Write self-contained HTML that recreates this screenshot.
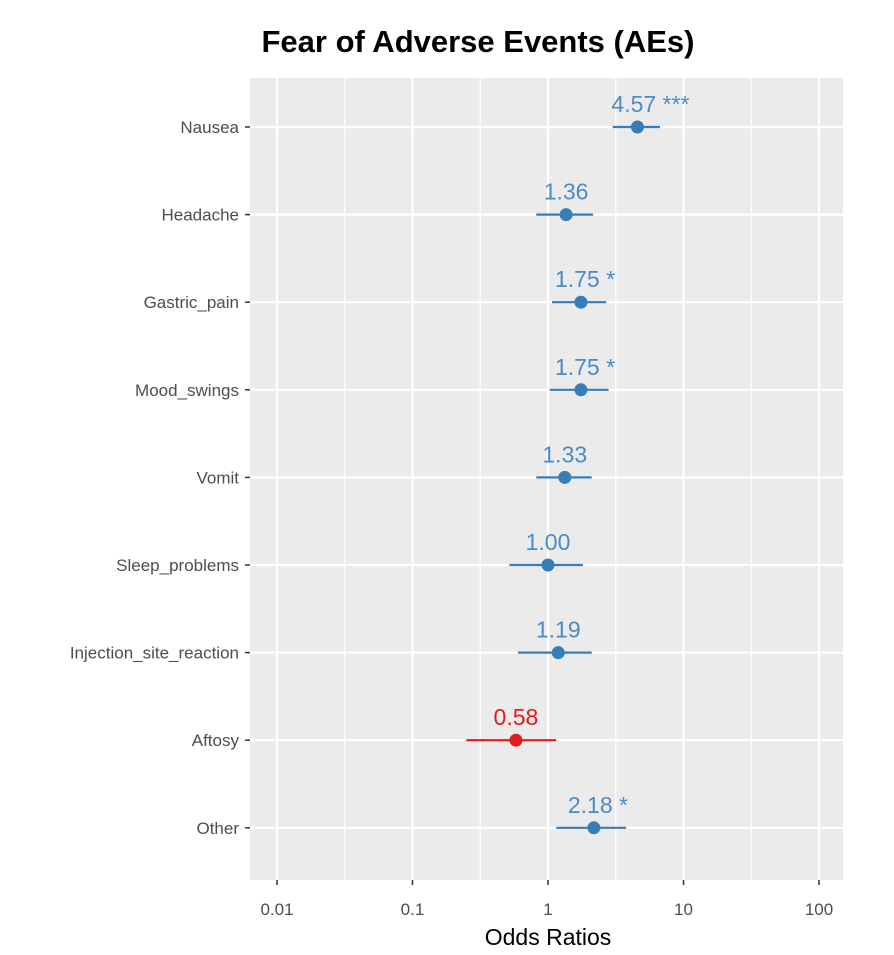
<!DOCTYPE html>
<html><head><meta charset="utf-8"><style>
body{margin:0;background:#fff;}
svg{display:block;font-family:"Liberation Sans",sans-serif;}
</style></head><body>
<svg id="chart" width="894" height="955">
<text x="478" y="52" text-anchor="middle" font-size="31" font-weight="bold" fill="#000">Fear of Adverse Events (AEs)</text>
<rect x="250" y="78" width="593" height="802" fill="#ebebeb"/>
<g id="grid"></g><g id="marks"></g><g id="axes"></g>
<text x="548" y="945" text-anchor="middle" font-size="23" fill="#000">Odds Ratios</text>
</svg>
<script>
const categories=["Nausea","Headache","Gastric_pain","Mood_swings","Vomit","Sleep_problems","Injection_site_reaction","Aftosy","Other"];
const oddsRatios=[4.57,1.36,1.75,1.75,1.33,1.00,1.19,0.58,2.18];
const lowerCI=[3.0,0.82,1.07,1.03,0.82,0.52,0.6,0.25,1.15];
const upperCI=[6.7,2.15,2.68,2.8,2.1,1.81,2.1,1.15,3.77];
const sigLabels=["***","","*","*","","","","","*"];
const xTicks=[0.01,0.1,1,10,100];
const xTickLabels=["0.01","0.1","1","10","100"];
const NS="http://www.w3.org/2000/svg";
const x=v=>548+135.5*Math.log10(v);
const y=i=>127+i*87.6;
function mk(tag,attrs,parent){const e=document.createElementNS(NS,tag);for(const k in attrs)e.setAttribute(k,attrs[k]);parent.appendChild(e);return e;}
const grid=document.getElementById('grid'),marks=document.getElementById('marks'),axes=document.getElementById('axes');
// minor grid
for(let k=0;k<xTicks.length-1;k++){const v=xTicks[k]*Math.sqrt(10);const l=mk('line',{x1:x(v),x2:x(v),y1:78,y2:880,stroke:'#fff','stroke-width':1.2},grid);

}
xTicks.forEach((t,k)=>{const l=mk('line',{x1:x(t),x2:x(t),y1:78,y2:880,stroke:'#fff','stroke-width':2.2},grid);


const tk=mk('line',{x1:x(t),x2:x(t),y1:880,y2:885,stroke:'#333','stroke-width':1.5},axes);


const tx=mk('text',{x:x(t),y:915,'text-anchor':'middle','font-size':17,fill:'#4d4d4d'},axes);tx.textContent=xTickLabels[k];

});
categories.forEach((c,i)=>{const yy=y(i);
const g=mk('line',{x1:250,x2:843,y1:yy,y2:yy,stroke:'#fff','stroke-width':2.2},grid);


const tk=mk('line',{x1:245,x2:250,y1:yy,y2:yy,stroke:'#333','stroke-width':1.5},axes);


const tl=mk('text',{x:239,y:yy+6,'text-anchor':'end','font-size':17,fill:'#4d4d4d'},axes);tl.textContent=c;


const col=oddsRatios[i]<1?'#e41a1c':'#377eb8';const tcol=oddsRatios[i]<1?'#e41a1c':'#4a8cc8';
const ci=mk('line',{x1:x(lowerCI[i]),x2:x(upperCI[i]),y1:yy,y2:yy,stroke:col,'stroke-width':2.2},marks);


const p=mk('circle',{cx:x(oddsRatios[i]),cy:yy,r:6.5,fill:col},marks);


const lb=mk('text',{x:x(oddsRatios[i]),y:yy-15,'text-anchor':'middle','font-size':23,fill:tcol},marks);
lb.textContent=oddsRatios[i].toFixed(2)+(sigLabels[i]?' '+sigLabels[i]:'');
if(sigLabels[i]){lb.setAttribute('text-anchor','start');lb.setAttribute('x',x(oddsRatios[i])-26);}


});
</script>
</body></html>
